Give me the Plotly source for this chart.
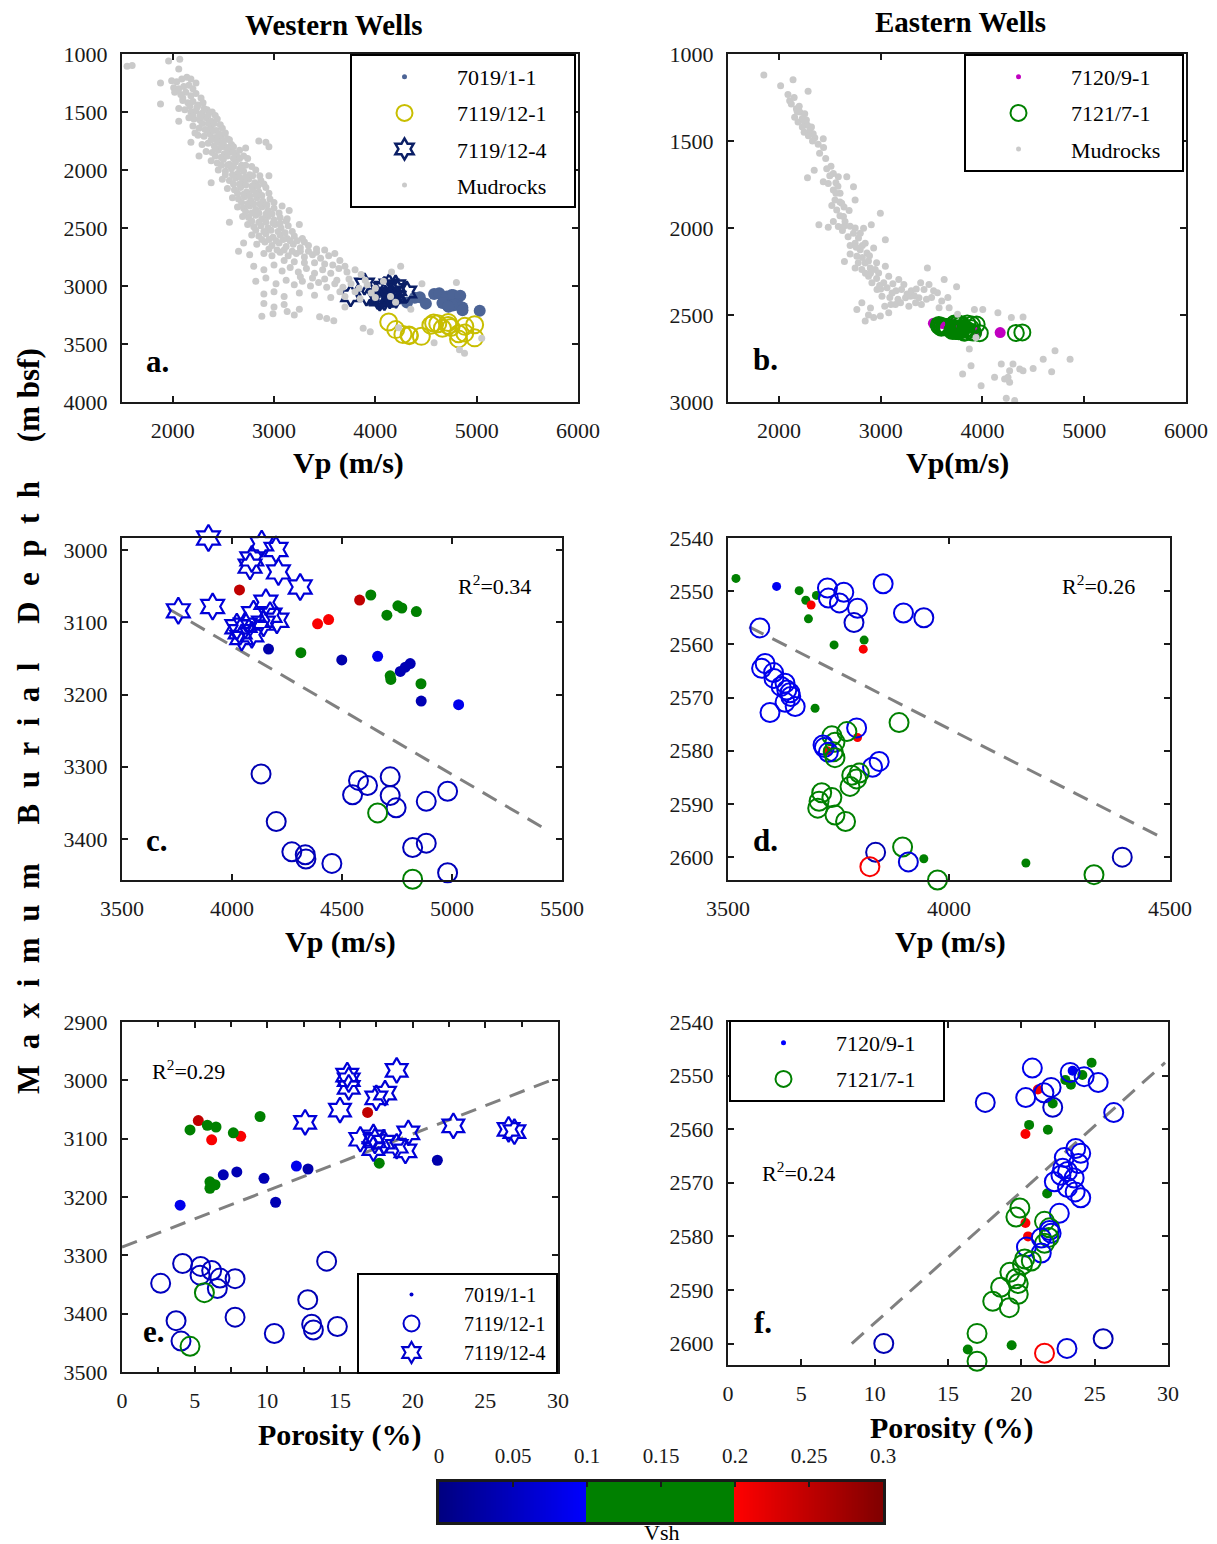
import numpy as np
import plotly.graph_objects as go

W, H = 1217, 1544
SERIF = "Liberation Serif"
INK = "#1a1a1a"

# ---------------- Western wells ----------------
# 7019/1-1
w1_vp = [4034, 4580, 4631, 4389, 4439, 4704, 4754, 4772, 4838, 4166, 4313, 4499, 4662, 4810, 4788, 4765, 4719, 4722, 4859, 4860, 5030]
w1_depth = [3055, 3069, 3062, 3102, 3096, 3090, 3077, 3080, 3085, 3137, 3142, 3152, 3147, 3157, 3162, 3168, 3174, 3179, 3185, 3209, 3214]
w1_por = [16.9, 5.25, 9.5, 6.17, 8.17, 7.66, 5.87, 6.47, 4.68, 21.7, 17.7, 12.8, 12.0, 7.9, 6.97, 9.77, 6.05, 6.4, 6.05, 10.57, 4.0]
w1_vsh = [0.25, 0.25, 0.15, 0.205, 0.205, 0.15, 0.15, 0.15, 0.15, 0.035, 0.15, 0.035, 0.085, 0.04, 0.04, 0.04, 0.15, 0.15, 0.15, 0.04, 0.085]

# 7119/12-1
w2_vp = [4132, 4719, 4575, 4616, 4980, 4548, 4719, 4883, 4746, 4662, 4201, 4883, 4821, 4272, 4333, 4336, 4454, 4980, 4821]
w2_depth = [3310, 3314, 3319, 3326, 3334, 3339, 3340, 3348, 3357, 3364, 3376, 3406, 3412, 3418, 3422, 3428, 3434, 3447, 3456]
w2_por = [14.08, 4.17, 5.41, 6.17, 5.37, 6.74, 7.78, 2.66, 6.56, 5.67, 12.78, 7.78, 3.72, 13.05, 14.82, 13.17, 10.48, 4.06, 4.68]
w2_vsh = [0.04, 0.045, 0.05, 0.05, 0.05, 0.05, 0.045, 0.05, 0.05, 0.15, 0.04, 0.045, 0.045, 0.045, 0.045, 0.045, 0.05, 0.045, 0.15]

# 7119/12-4
w3_vp = [3893, 4135, 4200, 4090, 4082, 4211, 4310, 4154, 3912, 3756, 4098, 4173, 4204, 4143, 4060, 4022, 4037, 4090, 4044]
w3_depth = [2983, 2991, 2999, 3012, 3022, 3030, 3051, 3072, 3078, 3084, 3088, 3090, 3097, 3101, 3104, 3106, 3113, 3117, 3121]
w3_por = [18.9, 15.5, 15.6, 15.6, 18.1, 17.5, 15.0, 12.6, 22.8, 26.6, 27.0, 19.7, 17.3, 16.4, 17.4, 18.0, 18.9, 17.3, 19.5]
w3_vsh = [0.07, 0.07, 0.07, 0.065, 0.065, 0.07, 0.07, 0.07, 0.07, 0.07, 0.07, 0.07, 0.065, 0.07, 0.07, 0.065, 0.07, 0.07, 0.07]

# mudrock trend, western wells (Vp, depth)
mud_west = [
    (1550, 1105), (1600, 1100), (1960, 1060), (2070, 1045), (2060, 1130), (1880, 1250), (1990, 1230), (2040, 1240),
    (2090, 1215), (2140, 1200), (2180, 1215), (2010, 1290), (2060, 1300), (2110, 1280), (2160, 1270), (2200, 1300),
    (2230, 1250), (1880, 1430), (2020, 1330), (2080, 1350), (2130, 1330), (2180, 1360), (2230, 1340), (2280, 1380),
    (2100, 1400), (2150, 1420), (2200, 1410), (2250, 1440), (2300, 1420), (2060, 1470), (2120, 1480), (2180, 1500),
    (2230, 1490), (2290, 1510), (2340, 1480), (2390, 1500), (2160, 1550), (2210, 1560), (2270, 1570), (2330, 1550),
    (2380, 1580), (2440, 1560), (2060, 1580), (2200, 1620), (2260, 1640), (2320, 1650), (2380, 1620), (2430, 1660),
    (2490, 1640), (2250, 1700), (2310, 1710), (2370, 1690), (2420, 1720), (2480, 1710), (2540, 1730), (2180, 1760),
    (2290, 1780), (2350, 1770), (2410, 1790), (2460, 1760), (2520, 1800), (2580, 1780), (2330, 1840), (2390, 1850),
    (2450, 1830), (2510, 1860), (2570, 1840), (2630, 1870), (2720, 1810), (2850, 1750), (2920, 1760), (2950, 1800),
    (2260, 1880), (2380, 1920), (2440, 1940), (2500, 1910), (2560, 1950), (2620, 1930), (2680, 1960), (2740, 1900),
    (2450, 2000), (2520, 2010), (2580, 1990), (2640, 2030), (2700, 2010), (2760, 2040), (2820, 2000), (2490, 2080),
    (2560, 2090), (2620, 2070), (2690, 2100), (2750, 2080), (2810, 2110), (2870, 2090), (2380, 2110), (2950, 2050),
    (2540, 2160), (2610, 2170), (2670, 2150), (2730, 2190), (2790, 2170), (2850, 2190), (2920, 2150), (2590, 2240),
    (2650, 2250), (2710, 2230), (2770, 2260), (2830, 2240), (2890, 2270), (2960, 2250), (2640, 2320), (2700, 2330),
    (2760, 2310), (2820, 2340), (2880, 2320), (2940, 2350), (3000, 2330), (3080, 2310), (2690, 2400), (2750, 2410),
    (2820, 2390), (2880, 2420), (2940, 2400), (3000, 2430), (3060, 2410), (3120, 2440), (3150, 2350), (2560, 2450),
    (2740, 2470), (2800, 2490), (2870, 2480), (2940, 2500), (3010, 2470), (3070, 2500), (3140, 2480), (3250, 2470),
    (2780, 2560), (2850, 2570), (2920, 2550), (2990, 2580), (3060, 2560), (3130, 2590), (3200, 2570), (3280, 2590),
    (2700, 2630), (2830, 2640), (2910, 2620), (2980, 2650), (3050, 2630), (3120, 2660), (3190, 2640), (3260, 2670),
    (3340, 2650), (3420, 2680), (3500, 2690), (2650, 2700), (2760, 2730), (2900, 2720), (2980, 2740), (3060, 2710),
    (3140, 2740), (3220, 2720), (3300, 2750), (3380, 2730), (3460, 2760), (3540, 2740), (3600, 2720), (3650, 2780),
    (2800, 2830), (2900, 2860), (3000, 2820), (3080, 2870), (3160, 2840), (3240, 2880), (3320, 2850), (3400, 2890),
    (3480, 2860), (3560, 2890), (3640, 2850), (3720, 2880), (3800, 2860), (3860, 2900), (2820, 2960), (2920, 2930),
    (3020, 2980), (3120, 2950), (3200, 2990), (3280, 2960), (3360, 3000), (3440, 2970), (3520, 3010), (3600, 2980),
    (3680, 3010), (3760, 2980), (3840, 3020), (3920, 2990), (4000, 3020), (4080, 2960), (4160, 2880), (4250, 2830),
    (4460, 2980), (4800, 2970), (2900, 3070), (3000, 3050), (3100, 3090), (3250, 3060), (3400, 3080), (3560, 3100),
    (3700, 3090), (3850, 3110), (4000, 3100), (4150, 3090), (4200, 3140), (2900, 3150), (3000, 3180), (3100, 3160),
    (3250, 3200), (2880, 3260), (2990, 3240), (3130, 3220), (3200, 3250), (3450, 3265), (3520, 3280), (3590, 3300),
    (3880, 3365), (3950, 3395), (4230, 3360), (4580, 3490), (4830, 3550), (4880, 3580), (5050, 3450), (4350, 3200),
    (3700, 3180), (2100, 1380), (2170, 1450), (2240, 1460), (2310, 1470), (2200, 1530), (2270, 1530), (2350, 1530),
    (2420, 1530), (2290, 1600), (2350, 1600), (2410, 1600), (2470, 1610), (2220, 1680), (2340, 1660), (2400, 1660),
    (2460, 1690), (2520, 1680), (2380, 1740), (2440, 1750), (2500, 1760), (2560, 1740), (2600, 1800), (2420, 1810),
    (2480, 1800), (2540, 1820), (2600, 1850), (2660, 1830), (2420, 1880), (2480, 1890), (2540, 1880), (2600, 1900),
    (2660, 1900), (2700, 1880), (2480, 1960), (2540, 1960), (2600, 1970), (2660, 1990), (2720, 1960), (2780, 1970),
    (2520, 2040), (2590, 2040), (2660, 2060), (2720, 2060), (2790, 2050), (2860, 2050), (2600, 2120), (2660, 2120),
    (2720, 2130), (2780, 2140), (2840, 2140), (2900, 2120), (2640, 2200), (2700, 2210), (2760, 2220), (2820, 2210),
    (2880, 2220), (2950, 2200), (2680, 2280), (2740, 2290), (2800, 2290), (2860, 2290), (2930, 2300), (3000, 2280),
    (2720, 2360), (2780, 2370), (2850, 2370), (2920, 2380), (2980, 2380), (3050, 2370), (2780, 2440), (2850, 2450),
    (2920, 2450), (2990, 2460), (3060, 2460), (3130, 2420), (2820, 2520), (2900, 2530), (2970, 2520), (3040, 2530),
    (3110, 2540), (3180, 2530), (2880, 2600), (2950, 2600), (3020, 2610), (3090, 2600), (3160, 2610), (3230, 2610),
    (3300, 2620), (2950, 2680), (3030, 2690), (3100, 2690), (3180, 2700), (3260, 2700), (3340, 2700), (3420, 2710),
    (3100, 2780), (3200, 2790), (3300, 2800), (3400, 2800), (3500, 2810), (3580, 2820), (3700, 2830), (3260, 2920),
    (3380, 2930), (3500, 2940), (3620, 2950), (3740, 2940), (3900, 2950), (3960, 3060), (3800, 3050), (3650, 3050),
]

# ---------------- Eastern wells ----------------
# 7120/9-1
e1_vp = [3518, 3610, 3661, 3700, 3676, 3688, 3682, 3808, 3740, 3806, 3697, 3793, 3725, 3943, 4174]
e1_depth = [2547.6, 2549.1, 2549.9, 2550.8, 2551.7, 2552.6, 2555.2, 2559.2, 2560.1, 2560.9, 2572.0, 2577.5, 2580.0, 2600.3, 2601.1]
e1_por = [24.79, 23.5, 24.16, 23.0, 23.38, 21.13, 22.14, 20.53, 21.81, 20.28, 21.76, 20.28, 20.46, 19.34, 16.35]
e1_vsh = [0.15, 0.09, 0.15, 0.15, 0.15, 0.205, 0.15, 0.15, 0.15, 0.205, 0.15, 0.205, 0.205, 0.15, 0.15]

# 7121/7-1
e2_vp = [3851, 3725, 3762, 3727, 3752, 3793, 3897, 3943, 3785, 3572,
         3584, 3576, 3603, 3604, 3629, 3620, 3633, 3640, 3642, 3629, 3652, 3595,
         3887, 3791, 3769, 3735, 3742, 3715, 3718, 3738, 3727, 3742, 3842, 3827,
         3797, 3780, 3791, 3776, 3712, 3735, 3706, 3703, 3742, 3766,
         3895, 3834, 4392, 3908, 3821, 4328, 3974]
e2_depth = [2548.6, 2549.4, 2550.2, 2551.3, 2552.2, 2553.2, 2554.1, 2555.0, 2555.9, 2556.9,
            2563.6, 2564.5, 2565.3, 2566.4, 2567.3, 2567.9, 2568.6, 2569.1, 2569.8, 2570.9, 2571.7, 2572.8,
            2574.7, 2575.7, 2576.4, 2577.2, 2578.4, 2578.9, 2579.4, 2580.2, 2580.3, 2581.3, 2582.0, 2583.1,
            2584.2, 2584.6, 2585.3, 2586.7, 2587.9, 2588.8, 2589.5, 2590.8, 2592.1, 2593.3,
            2598.1, 2599.1, 2600.0, 2600.9, 2601.8, 2603.3, 2604.3]
e2_por = [20.75, 23.33, 24.28, 25.24, 22.03, 21.54, 20.30, 17.54, 22.14, 26.30,
          23.71, 24.05, 22.93, 23.89, 22.82, 23.15, 22.70, 23.60, 22.25, 23.15, 23.67, 24.05,
          19.90, 22.59, 19.63, 21.58, 21.92, 21.92, 22.03, 21.87, 21.36, 21.58, 20.35, 21.36,
          20.23, 20.68, 20.08, 19.22, 19.63, 19.79, 18.59, 19.79, 18.05, 19.18,
          16.98, 25.58, 10.62, 23.11, 21.58, 16.98, 13.00]
e2_vsh = [0.085, 0.08, 0.08, 0.08, 0.075, 0.08, 0.08, 0.07, 0.06, 0.08,
          0.085, 0.085, 0.085, 0.085, 0.085, 0.085, 0.085, 0.085, 0.085, 0.085, 0.085, 0.085,
          0.15, 0.085, 0.15, 0.15, 0.15, 0.085, 0.085, 0.15, 0.085, 0.15, 0.085, 0.085,
          0.15, 0.15, 0.15, 0.15, 0.15, 0.15, 0.15, 0.15, 0.15, 0.15,
          0.15, 0.04, 0.04, 0.07, 0.205, 0.15, 0.15]

# mudrock trend, eastern wells (Vp, depth)
mud_east = [
    (1852, 1121), (2017, 1182), (2139, 1148), (2287, 1214), (2089, 1233), (2106, 1268), (2122, 1287), (2172, 1315),
    (2205, 1334), (2254, 1344), (2155, 1363), (2188, 1391), (2248, 1386), (2281, 1410), (2304, 1439), (2248, 1449),
    (2337, 1458), (2353, 1481), (2386, 1519), (2436, 1487), (2439, 1538), (2347, 1668), (2281, 1711), (2512, 1645),
    (2535, 1687), (2584, 1706), (2485, 1744), (2535, 1782), (2601, 1801), (2551, 1839), (2617, 1858), (2568, 1896),
    (2634, 1934), (2535, 1963), (2584, 1991), (2650, 1963), (2733, 1763), (2749, 1839), (2667, 1706), (2436, 1734),
    (2393, 1982), (2485, 1995), (2624, 2014), (2997, 1915), (2908, 1982), (2832, 2001), (2733, 2030), (2782, 2058),
    (2749, 2087), (2848, 2087), (2799, 2125), (2865, 2144), (2766, 2163), (2848, 2201), (2815, 2239), (2898, 2230),
    (2947, 2239), (2881, 2277), (3046, 2068), (2931, 2115), (2980, 2258), (3046, 2220), (3079, 2277), (3030, 2315),
    (2644, 2192), (2749, 2230), (2914, 2315), (2964, 2353), (3013, 2392), (3063, 2344), (3112, 2373), (3178, 2296),
    (3205, 2353), (3244, 2401), (3294, 2392), (3343, 2430), (3393, 2315), (3426, 2353), (3475, 2325), (3459, 2230),
    (3376, 2401), (3195, 2430), (3277, 2449), (3079, 2487), (2997, 2506), (2931, 2515), (2848, 2534), (2766, 2468),
    (2815, 2430), (3145, 2439), (3558, 2372), (3624, 2296), (3746, 2338), (3574, 2458), (3673, 2458), (3228, 2325),
    (3756, 2496), (3921, 2468), (4003, 2468), (4152, 2487), (4284, 2515), (4399, 2512), (3937, 2630), (3871, 2696),
    (3888, 2792), (3805, 2839), (3987, 2906), (4185, 2782), (4300, 2782), (4366, 2811), (4399, 2820), (4267, 2820),
    (4119, 2858), (4218, 2868), (4267, 2887), (4234, 2978), (4317, 2992), (4498, 2807), (4597, 2754), (4713, 2706),
    (4680, 2826), (4861, 2754), (4251, 2858), (2150, 1250), (2200, 1300), (2230, 1370), (2270, 1380), (2320, 1420),
    (2290, 1470), (2400, 1570), (2460, 1600), (2500, 1700), (2560, 1740), (2580, 1760), (2600, 1850), (2640, 1880),
    (2690, 1900), (2600, 1930), (2700, 1990), (2750, 2000), (2800, 2030), (2700, 2100), (2760, 2110), (2820, 2170),
    (2880, 2190), (2900, 2260), (2960, 2290), (3000, 2350), (3090, 2400), (3150, 2360), (3300, 2360), (3350, 2350),
    (3500, 2400), (3600, 2420), (3400, 2440), (2880, 2500), (2230, 1420), (2180, 1330), (2330, 1500), (2470, 1660),
    (2560, 1800), (2520, 1870), (2640, 1990), (2680, 2050), (2820, 2100), (2700, 2150), (2890, 2160), (2780, 2200),
    (2960, 2200), (2850, 2260), (2990, 2330), (3120, 2320), (3170, 2410), (3260, 2380), (3330, 2390), (3040, 2450),
    (3450, 2410), (3520, 2360), (2900, 2460), (3100, 2440), (3660, 2400),
]

# fitted trend lines (end points)
fit_c_vp, fit_c_depth = [3711, 5417], [3081, 3385]
fit_d_vp, fit_d_depth = [3548, 4481], [2556.7, 2596.3]
fit_e_por, fit_e_depth = [0.0, 29.7], [3286, 2998]
fit_f_por, fit_f_depth = [8.44, 29.8], [2600.0, 2547.6]

r2_labels = {"c": "0.34", "d": "0.26", "e": "0.29", "f": "0.24"}

# Vsh colour map: blue ramp, flat green, red ramp
VSH_MIN, VSH_MAX = 0.0, 0.3
VSH_SCALE = [[0.0, "#000080"], [1 / 3, "#0000FF"], [1 / 3, "#008000"], [2 / 3, "#008000"],
             [2 / 3, "#FF0000"], [1.0, "#800000"]]
vsh_ticks = [0, 0.05, 0.1, 0.15, 0.2, 0.25, 0.3]
vsh_ticktext = ["0", "0.05", "0.1", "0.15", "0.2", "0.25", "0.3"]

C_W1 = "#4C6496"
C_W2 = "#C8BE00"
C_W3 = "#0B1F66"
C_MUD = "#CACACA"
C_E1 = "#C000C0"
C_E2 = "#008000"


def fx(p):
    return p / W


def fy(p):
    return 1 - p / H


def axis(xpx, rng, tickvals, ticktext=None, minor=None):
    d = dict(domain=[fx(xpx[0]), fx(xpx[1])], range=rng, tickvals=tickvals,
             ticktext=ticktext if ticktext else [str(v) for v in tickvals],
             showline=True, linecolor=INK, linewidth=2, mirror="allticks",
             ticks="inside", ticklen=6, tickwidth=1.5, tickcolor=INK,
             showgrid=False, zeroline=False, ticklabelstandoff=8,
             tickfont=dict(family=SERIF, size=22, color=INK))
    if minor:
        d["minor"] = dict(dtick=minor, ticks="inside", ticklen=5, tickwidth=1.5, tickcolor=INK, showgrid=False)
    return d


def yaxis(ypx, rng, tickvals):
    d = axis((0, 1), rng, tickvals)
    d["domain"] = [fy(ypx[1]), fy(ypx[0])]
    return d


fig = go.Figure()

# ---- panel a ----
fig.add_trace(go.Scatter(x=w1_vp, y=w1_depth, mode="markers", xaxis="x", yaxis="y", showlegend=False,
                         marker=dict(size=12, color=C_W1)))
fig.add_trace(go.Scatter(x=w2_vp, y=w2_depth, mode="markers", xaxis="x", yaxis="y", showlegend=False,
                         marker=dict(size=17, symbol="circle-open", color=C_W2, line=dict(width=2))))
fig.add_trace(go.Scatter(x=w3_vp, y=w3_depth, mode="markers", xaxis="x", yaxis="y", showlegend=False,
                         marker=dict(size=16, symbol="hexagram-open", color=C_W3, line=dict(width=2.5))))
fig.add_trace(go.Scatter(x=[p[0] for p in mud_west], y=[p[1] for p in mud_west], mode="markers",
                         xaxis="x", yaxis="y", showlegend=False, marker=dict(size=7, color=C_MUD)))

# ---- panel b ----
fig.add_trace(go.Scatter(x=e1_vp, y=e1_depth, mode="markers", xaxis="x2", yaxis="y2", showlegend=False,
                         marker=dict(size=11, color=C_E1)))
fig.add_trace(go.Scatter(x=e2_vp, y=e2_depth, mode="markers", xaxis="x2", yaxis="y2", showlegend=False,
                         marker=dict(size=16, symbol="circle-open", color=C_E2, line=dict(width=2))))
fig.add_trace(go.Scatter(x=[p[0] for p in mud_east], y=[p[1] for p in mud_east], mode="markers",
                         xaxis="x2", yaxis="y2", showlegend=False, marker=dict(size=7, color=C_MUD)))

DASH = dict(color="#808080", width=3, dash="16px,10px")


def vsh_marker(vals, size, symbol="circle", lw=2):
    m = dict(size=size, symbol=symbol, color=vals, coloraxis="coloraxis")
    if symbol != "circle":
        m["line"] = dict(width=lw)
    return m


def pts(x, y, ax, marker):
    fig.add_trace(go.Scatter(x=x, y=y, mode="markers", xaxis="x" + ax, yaxis="y" + ax, showlegend=False,
                             cliponaxis=False, marker=marker))


def trend(x, y, ax):
    fig.add_trace(go.Scatter(x=x, y=y, mode="lines", xaxis="x" + ax, yaxis="y" + ax, showlegend=False, line=DASH))


# ---- panel c ----
trend(fit_c_vp, fit_c_depth, "3")
pts(w3_vp, w3_depth, "3", vsh_marker(w3_vsh, 20, "hexagram-open", 2.2))
pts(w1_vp, w1_depth, "3", vsh_marker(w1_vsh, 11))
pts(w2_vp, w2_depth, "3", vsh_marker(w2_vsh, 19, "circle-open", 2))

# ---- panel d ----
trend(fit_d_vp, fit_d_depth, "4")
pts(e1_vp, e1_depth, "4", vsh_marker(e1_vsh, 9))
pts(e2_vp, e2_depth, "4", vsh_marker(e2_vsh, 19, "circle-open", 2))

# ---- panel e ----
trend(fit_e_por, fit_e_depth, "5")
pts(w1_por, w1_depth, "5", vsh_marker(w1_vsh, 11))
pts(w2_por, w2_depth, "5", vsh_marker(w2_vsh, 19, "circle-open", 2))
pts(w3_por, w3_depth, "5", vsh_marker(w3_vsh, 19, "hexagram-open", 2.2))

# ---- panel f ----
trend(fit_f_por, fit_f_depth, "6")
pts(e1_por, e1_depth, "6", vsh_marker(e1_vsh, 10))
pts(e2_por, e2_depth, "6", vsh_marker(e2_vsh, 19, "circle-open", 2))

# ---- Vsh colour bar ----
cb_x = np.linspace(VSH_MIN, VSH_MAX, 301)
fig.add_trace(go.Heatmap(x=cb_x, y=[0], z=[cb_x], coloraxis="coloraxis", xaxis="x7", yaxis="y7",
                         hoverinfo="skip"))

NB = "\u00a0"


# ---- legend entries ----
def legend_entry(name, legend, marker, pad=0):
    fig.add_trace(go.Scatter(x=[None], y=[None], mode="markers", name=name + NB * pad, legend=legend,
                             legendgroup=legend + name, xaxis="x", yaxis="y", marker=marker))


legend_entry("7019/1-1", "legend", dict(size=5, color=C_W1), 4)
legend_entry("7119/12-1", "legend", dict(size=16, symbol="circle-open", color=C_W2, line=dict(width=2)), 4)
legend_entry("7119/12-4", "legend", dict(size=16, symbol="hexagram-open", color=C_W3, line=dict(width=2.5)), 4)
legend_entry("Mudrocks", "legend", dict(size=5, color=C_MUD), 4)
legend_entry("7120/9-1", "legend2", dict(size=5, color=C_E1), 3)
legend_entry("7121/7-1", "legend2", dict(size=16, symbol="circle-open", color=C_E2, line=dict(width=2)), 3)
legend_entry("Mudrocks", "legend2", dict(size=5, color=C_MUD), 3)
legend_entry("7019/1-1", "legend3", dict(size=4, color="#0000CC"), 1)
legend_entry("7119/12-1", "legend3", dict(size=16, symbol="circle-open", color="#0000CC", line=dict(width=2)), 1)
legend_entry("7119/12-4", "legend3", dict(size=16, symbol="hexagram-open", color="#0000CC", line=dict(width=2.2)), 1)
legend_entry("7120/9-1", "legend4", dict(size=5, color="#0000FF"), 4)
legend_entry("7121/7-1", "legend4", dict(size=16, symbol="circle-open", color=C_E2, line=dict(width=2)), 4)


def legend_box(xpx, ypx, size=22, gap=4.5, itemwidth=95):
    return dict(x=fx(xpx), y=fy(ypx), xanchor="left", yanchor="top", bgcolor="white",
                bordercolor="black", borderwidth=2, traceorder="grouped", tracegroupgap=gap,
                itemwidth=itemwidth, itemclick=False, itemdoubleclick=False,
                font=dict(family=SERIF, size=size, color="black"))


depth_ticks_a = [1000, 1500, 2000, 2500, 3000, 3500, 4000]
depth_ticks_b = [1000, 1500, 2000, 2500, 3000]
vp_ticks = [2000, 3000, 4000, 5000, 6000]

layout = dict(
    width=W, height=H, margin=dict(l=0, r=0, t=0, b=0, autoexpand=False),
    paper_bgcolor="white", plot_bgcolor="white", showlegend=True,
    coloraxis=dict(colorscale=VSH_SCALE, cmin=VSH_MIN, cmax=VSH_MAX, showscale=False),
    xaxis=axis((122, 578), [1500, 6000], vp_ticks),
    yaxis=yaxis((54, 402), [4000, 1000], depth_ticks_a),
    xaxis2=axis((728, 1186), [1500, 6000], vp_ticks),
    yaxis2=yaxis((54, 402), [3000, 1000], depth_ticks_b),
    xaxis3=axis((122, 562), [3500, 5500], [3500, 4000, 4500, 5000, 5500]),
    yaxis3=yaxis((538, 880), [3457, 2983], [3000, 3100, 3200, 3300, 3400]),
    xaxis4=axis((728, 1170), [3500, 4500], [3500, 4000, 4500]),
    yaxis4=yaxis((538, 880), [2604.3, 2540], [2540, 2550, 2560, 2570, 2580, 2590, 2600]),
    xaxis5=axis((122, 558), [0, 30], [0, 5, 10, 15, 20, 25, 30], minor=2.5),
    yaxis5=yaxis((1022, 1372), [3500, 2900], [2900, 3000, 3100, 3200, 3300, 3400, 3500]),
    xaxis6=axis((728, 1168), [0, 30], [0, 5, 10, 15, 20, 25, 30]),
    yaxis6=yaxis((1022, 1365), [2604, 2540], [2540, 2550, 2560, 2570, 2580, 2590, 2600]),
    legend=legend_box(350, 54),
    legend2=legend_box(964, 54),
    legend3=legend_box(357, 1273, size=20, gap=0),
    legend4=legend_box(729, 1020),
)
for k in ["xaxis", "xaxis2", "xaxis3", "xaxis4", "xaxis5", "xaxis6"]:
    layout[k]["anchor"] = "y" + k[5:]
for k in ["yaxis", "yaxis2", "yaxis3", "yaxis4", "yaxis5", "yaxis6"]:
    layout[k]["anchor"] = "x" + k[5:]

cbx = axis((439, 883), [VSH_MIN, VSH_MAX], vsh_ticks, vsh_ticktext)
cbx.update(side="top", mirror=True, anchor="y7", ticklen=5, tickwidth=2, linewidth=2.5,
           tickfont=dict(family=SERIF, size=21, color=INK))
cby = dict(domain=[fy(1522), fy(1482)], range=[-0.5, 0.5], anchor="x7", showticklabels=False,
           ticks="", showline=True, mirror=True, linecolor=INK, linewidth=2.5, showgrid=False, zeroline=False)
layout["xaxis7"] = cbx
layout["yaxis7"] = cby

fig.update_layout(**layout)

ann = []


def text(s, xpx, ypx, size, angle=0, xanchor="center"):
    ann.append(dict(text=s, x=fx(xpx), y=fy(ypx), xref="paper", yref="paper", showarrow=False,
                    xanchor=xanchor, yanchor="middle", textangle=angle,
                    font=dict(family=SERIF, size=size, color="black")))


text("<b>Western Wells</b>", 333, 25, 29)
text("<b>Eastern Wells</b>", 960, 22, 29)
text("<b>Vp (m/s)</b>", 348, 463, 30)
text("<b>Vp(m/s)</b>", 957, 463, 30)
text("<b>Vp (m/s)</b>", 340, 942, 30)
text("<b>Vp (m/s)</b>", 950, 942, 30)
text("<b>Porosity (%)</b>", 340, 1435, 30)
text("<b>Porosity (%)</b>", 952, 1428, 30)
for lab, xp, yp in [("a.", 157, 362), ("b.", 765, 360), ("c.", 157, 840), ("d.", 765, 840),
                    ("e.", 154, 1331), ("f.", 763, 1322)]:
    text("<b>%s</b>" % lab, xp, yp, 31)
for key, xp, yp in [("c", 494, 585), ("d", 1098, 585), ("e", 188, 1070), ("f", 798, 1172)]:
    text("R<sup>2</sup>=%s" % r2_labels[key], xp, yp, 22)

ytitle = (NB * 5).join([(NB * 2).join(w) for w in ["Maximum", "Burial", "Depth"]]) + NB * 5 + "(m" + NB + "bsf)"
text("<b>%s</b>" % ytitle, 28, 721, 31, angle=-90)
text("Vsh", 661, 1532, 22)

fig.update_layout(annotations=ann)
fig.write_html("out.html")
